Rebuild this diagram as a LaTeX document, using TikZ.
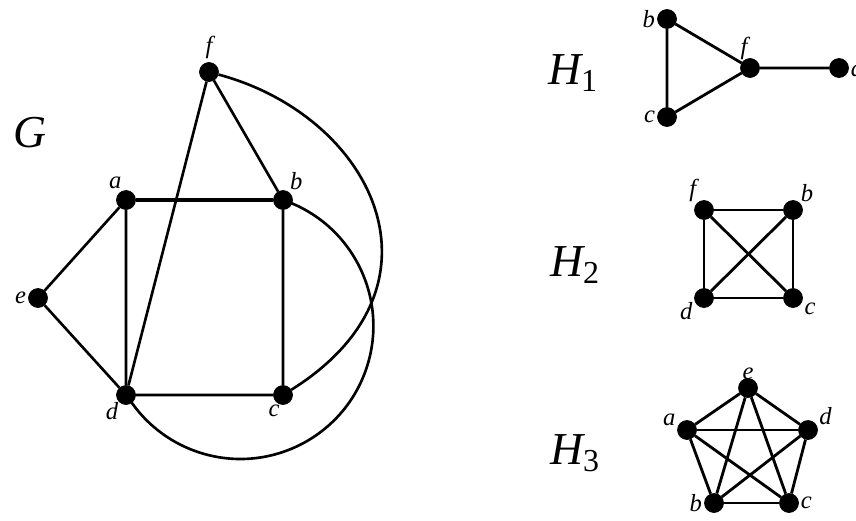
\documentclass[tikz,border=0pt]{standalone}
\usepackage{fontspec}
\setmainfont{Liberation Serif}
\usetikzlibrary{positioning}
\tikzset{vertex/.style={draw, fill=black, circle, inner sep=0pt, minimum size=0.38cm},
lbl/.style={font=\fontsize{14}{16}\selectfont\itshape, inner sep=1pt},
link/.style={draw, line width=1.5pt},
heavy/.style={draw, line width=2.6pt},
hlink/.style={draw, line width=1.6pt},
gname/.style={font=\fontsize{26}{28}\selectfont\itshape, inner sep=0pt}}

\begin{document}
\begin{tikzpicture}[x=0.02cm, y=-0.02cm]
    \useasboundingbox (0,0) rectangle (856,521);

    % Graph G
    \node[gname] (G) at (30,133) {G};
    \node[vertex, label={[lbl, label distance=1pt]above:f}] (f) at (209,72) {};
    \node[vertex, label={[lbl, label distance=0pt]105:a}] (a) at (126,200) {};
    \node[vertex, label={[lbl, label distance=0pt]60:b}] (b) at (283,200) {};
    \node[vertex, label={[lbl, label distance=0pt]left:e}] (e) at (38,298) {};
    \node[vertex, label={[lbl, label distance=-1pt]225:d}] (d) at (126,395) {};
    \node[vertex, label={[lbl, label distance=-1pt]260:c}] (c) at (283,395) {};

    \draw[heavy] (a) -- (b);
    \draw[link] (e) -- (a) (e) -- (d) (a) -- (d) (b) -- (c) (d) -- (c);
    \draw[link] (f) -- (d) (f) -- (b);
    % the two long curves
    \draw[link] (f) .. controls +(164,44) and +(174,-109) .. (c);
    \draw[link] (b.center) arc[start angle=-71.3, end angle=149.2, radius=133];

    % H1
    \node[gname] (H1) at (573,73) {H\textsubscript{\upshape 1}};
    \node[vertex, label={[lbl]left:b}] (h1b) at (667,19) {};
    \node[vertex, label={[lbl]left:c}] (h1c) at (667,117) {};
    \node[vertex, label={[lbl, label distance=-2pt]95:f}] (h1f) at (750,68) {};
    \node[vertex, label={[lbl]right:d}] (h1d) at (839,68) {};
    \draw[hlink] (h1b) -- (h1c) -- (h1f) -- (h1b) (h1f) -- (h1d);

    % H2
    \node[gname] (H2) at (575,265) {H\textsubscript{\upshape 2}};
    \node[vertex, label={[lbl, label distance=-1pt]135:f}] (h2f) at (704,210) {};
    \node[vertex, label={[lbl, label distance=-1pt]45:b}] (h2b) at (793,210) {};
    \node[vertex, label={[lbl]195:d}] (h2d) at (704,298) {};
    \node[vertex, label={[lbl]345:c}] (h2c) at (793,298) {};
    \foreach \u/\v in {h2f/h2b, h2f/h2d, h2f/h2c, h2b/h2d, h2b/h2c, h2d/h2c}
        \draw[hlink] (\u) -- (\v);

    % H3
    \node[gname] (H3) at (575,453) {H\textsubscript{\upshape 3}};
    \node[vertex, label={[lbl, label distance=-2pt]above:e}] (h3e) at (748,388) {};
    \node[vertex, label={[lbl]165:a}] (h3a) at (687,430) {};
    \node[vertex, label={[lbl]20:d}] (h3d) at (808,430) {};
    \node[vertex, label={[lbl]left:b}] (h3b) at (714,503) {};
    \node[vertex, label={[lbl]right:c}] (h3c) at (789,503) {};
    \foreach \u/\v in {h3e/h3a, h3e/h3d, h3e/h3b, h3e/h3c, h3a/h3d, h3a/h3b, h3a/h3c, h3d/h3b, h3d/h3c, h3b/h3c}
        \draw[hlink] (\u) -- (\v);
\end{tikzpicture}
\end{document}
